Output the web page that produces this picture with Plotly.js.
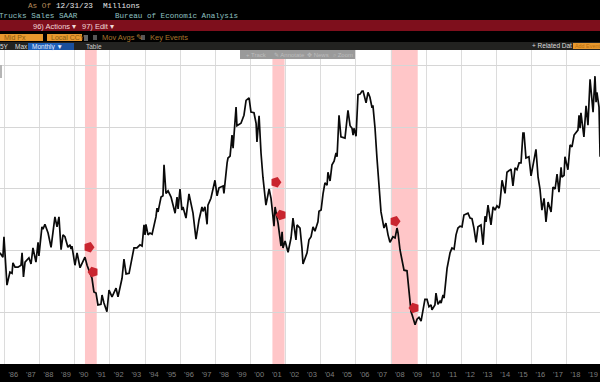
<!DOCTYPE html>
<html><head><meta charset="utf-8">
<script src="https://cdn.plot.ly/plotly-3.0.1.min.js"></script>
<style>html,body{margin:0;padding:0;background:#000}#c{width:600px;height:382px}</style>
</head><body><div id="c"></div>
<script>
const years=[1985.74,1985.91,1985.97,1986.05,1986.14,1986.31,1986.43,1986.48,1986.60,1986.77,1986.94,1987.00,1987.08,1987.17,1987.39,1987.51,1987.62,1987.79,1987.91,1987.96,1988.13,1988.19,1988.30,1988.48,1988.65,1988.87,1988.99,1989.10,1989.22,1989.33,1989.44,1989.61,1989.73,1989.79,1989.84,1990.01,1990.13,1990.30,1990.58,1990.70,1990.87,1990.98,1991.09,1991.21,1991.32,1991.49,1991.55,1991.66,1991.83,1991.95,1992.12,1992.35,1992.46,1992.63,1992.69,1992.80,1992.92,1993.09,1993.37,1993.54,1993.71,1993.83,1993.94,1994.00,1994.05,1994.17,1994.28,1994.40,1994.62,1994.68,1994.74,1994.91,1995.02,1995.08,1995.19,1995.31,1995.48,1995.71,1995.82,1995.88,1995.99,1996.10,1996.16,1996.33,1996.50,1996.73,1996.90,1997.07,1997.24,1997.30,1997.41,1997.53,1997.58,1997.75,1997.98,1998.10,1998.21,1998.44,1998.49,1998.67,1998.72,1998.84,1998.95,1999.01,1999.18,1999.23,1999.46,1999.63,1999.75,1999.92,2000.03,2000.20,2000.32,2000.37,2000.49,2000.60,2000.71,2000.88,2001.06,2001.17,2001.34,2001.40,2001.57,2001.74,2001.80,2001.85,2001.97,2002.14,2002.31,2002.42,2002.59,2002.65,2002.82,2002.93,2002.99,2003.22,2003.33,2003.45,2003.56,2003.67,2003.84,2003.90,2004.02,2004.13,2004.24,2004.36,2004.41,2004.53,2004.64,2004.76,2004.87,2004.93,2004.98,2005.04,2005.15,2005.38,2005.55,2005.67,2005.78,2005.84,2005.89,2006.01,2006.12,2006.24,2006.35,2006.41,2006.58,2006.69,2006.80,2006.92,2006.97,2007.09,2007.20,2007.32,2007.43,2007.60,2007.71,2007.83,2007.94,2008.11,2008.23,2008.34,2008.40,2008.51,2008.63,2008.74,2008.91,2009.02,2009.14,2009.20,2009.37,2009.48,2009.59,2009.71,2009.82,2009.93,2010.05,2010.16,2010.28,2010.33,2010.50,2010.56,2010.67,2010.79,2010.85,2010.96,2011.02,2011.13,2011.19,2011.36,2011.47,2011.59,2011.70,2011.81,2011.93,2012.04,2012.15,2012.38,2012.50,2012.61,2012.72,2012.84,2012.95,2013.12,2013.24,2013.35,2013.41,2013.52,2013.69,2013.81,2013.92,2014.03,2014.15,2014.20,2014.32,2014.49,2014.60,2014.83,2014.94,2015.06,2015.17,2015.29,2015.40,2015.51,2015.57,2015.68,2015.85,2015.97,2016.25,2016.37,2016.48,2016.59,2016.71,2016.82,2016.94,2017.11,2017.22,2017.34,2017.45,2017.56,2017.68,2017.73,2017.85,2017.90,2018.07,2018.19,2018.30,2018.42,2018.64,2018.70,2018.76,2018.81,2018.98,2019.10,2019.21,2019.33,2019.50,2019.61,2019.67,2019.72,2019.84,2019.90];
const sales=[.297,.290,.323,.290,.245,.266,.264,.281,.274,.274,.277,.297,.258,.282,.289,.279,.305,.282,.314,.292,.339,.335,.343,.329,.306,.355,.339,.355,.302,.326,.323,.306,.310,.303,.308,.277,.297,.273,.290,.277,.264,.256,.234,.232,.213,.214,.229,.216,.202,.237,.226,.240,.226,.252,.256,.287,.263,.264,.305,.305,.310,.308,.342,.326,.343,.326,.329,.327,.355,.369,.363,.387,.389,.439,.393,.397,.387,.361,.387,.368,.400,.366,.371,.353,.392,.361,.319,.350,.371,.364,.371,.343,.374,.385,.414,.389,.402,.405,.393,.442,.450,.453,.487,.466,.532,.502,.506,.519,.543,.547,.524,.523,.506,.476,.518,.458,.419,.374,.400,.385,.340,.371,.345,.308,.331,.305,.316,.298,.321,.353,.318,.342,.337,.305,.279,.297,.318,.323,.339,.332,.347,.364,.366,.392,.410,.406,.427,.413,.439,.445,.458,.452,.476,.519,.484,.482,.527,.502,.498,.487,.498,.485,.552,.553,.558,.558,.539,.556,.548,.531,.535,.498,.450,.402,.363,.337,.345,.326,.314,.323,.321,.337,.329,.302,.285,.269,.268,.232,.202,.197,.181,.190,.193,.187,.205,.222,.222,.210,.213,.205,.213,.232,.214,.219,.216,.229,.224,.261,.272,.297,.305,.303,.326,.337,.340,.339,.358,.361,.353,.352,.337,.314,.339,.342,.310,.356,.347,.374,.342,.371,.366,.373,.369,.377,.414,.393,.427,.432,.405,.434,.431,.442,.442,.490,.490,.450,.452,.421,.464,.419,.400,.366,.385,.347,.379,.363,.403,.400,.424,.395,.435,.419,.422,.452,.431,.471,.468,.487,.495,.519,.498,.523,.484,.534,.503,.577,.524,.582,.540,.556,.532,.452];
const recessionStart=[1990.58,2001.25,2007.99];
const recessionEnd=[1991.25,2001.94,2009.52];
const eventYears=[1990.81,1991.04,2001.45,2001.74,2008.23,2009.31];
const eventValues=[.306,.266,.411,.358,.348,.208];
const eventAngles=[90,-90,90,-90,90,-90];
const gridYears=[1986,1988,1990,1992,1994,1996,1998,2000,2002,2004,2006,2008,2010,2012,2014,2016,2018];
const gridValues=[.2,.3,.4,.5,.6];
const tickYears=[1986,1987,1988,1989,1990,1991,1992,1993,1994,1995,1996,1997,1998,1999,2000,2001,2002,2003,2004,2005,2006,2007,2008,2009,2010,2011,2012,2013,2014,2015,2016,2017,2018,2019];
const tickLabels=["'86","'87","'88","'89","'90","'91","'92","'93","'94","'95","'96","'97","'98","'99","'00","'01","'02","'03","'04","'05","'06","'07","'08","'09","'10","'11","'12","'13","'14","'15","'16","'17","'18","'19"];

const H=382;
function rect(x0,y0,x1,y1,c){return {type:'rect',xref:'paper',yref:'paper',x0:x0/600,x1:x1/600,y0:1-y1/H,y1:1-y0/H,fillcolor:c,line:{width:0},layer:'above'};}
function txt(x,y,t,c,s,f,a){return {xref:'paper',yref:'paper',x:x/600,y:1-y/H,text:t,showarrow:false,xanchor:a||'left',yanchor:'middle',font:{color:c,size:s,family:f||'Liberation Sans'}};}
const mono='Liberation Mono';
const shapes=recessionStart.map((s,i)=>({type:'rect',xref:'x',yref:'paper',x0:s,x1:recessionEnd[i],y0:1-364/H,y1:1-50/H,fillcolor:'#ffc6c8',line:{width:0},layer:'below'}));
shapes.push(
 rect(0,20,600,31,'#7e0f1c'),
 rect(0,42,600,50,'#222220'),
 rect(0,34,43,41,'#e8982e'),
 rect(47,34,82,41,'#e8982e'),
 rect(84,35,88,41,'#666666'),
 rect(93,35,97,40,'#555555'),
 rect(141,35,145,40,'#555555'),
 rect(28,43,60,50,'#1d5fb8'),
 rect(60,43,74,50,'#1a4f9c'),
 rect(573,43,600,49,'#e8982e'),
 rect(240,50,355,59,'#9a9a9a'),
 rect(0,65,2,78,'#b5b5b5')
);
const annotations=[
 txt(26,6,'As Of','#b98a5a',7.7,mono),
 txt(54,6,'12/31/23','#e6e6e6',7.7,mono),
 txt(101,6,'Millions','#e6e6e6',7.7,mono),
 txt(-3,16,'Trucks Sales SAAR','#8fc0c0',7.7,mono),
 txt(113,16,'Bureau of Economic Analysis','#8fc0c0',7.6,mono),
 txt(31,26,'96) Actions ▾','#f0d8d8',7.5),
 txt(80,26,'97) Edit ▾','#f0d8d8',7.5),
 txt(2,37.5,'Mid Px','#8a5a10',7),
 txt(49,37.5,'Local CCY','#8a5a10',7),
 txt(100,37.5,'Mov Avgs ✎','#a8742c',7.5),
 txt(148,37.5,'Key Events','#a8742c',7.5),
 txt(-2,46.5,'5Y','#dddddd',6.5),
 txt(13,46.5,'Max','#dddddd',6.5),
 txt(30,46.5,'Monthly ▼','#e8eeff',6.5),
 txt(84,46.5,'Table','#cccccc',6.5),
 txt(530,46,'+ Related Dat','#dddddd',6.5),
 txt(573,46,'Add Event','#b86f10',5.4),
 txt(244,54.5,'+ Track','#bdbdbd',6),
 txt(272,54.5,'✎ Annotate','#bdbdbd',6),
 txt(305,54.5,'✥ News','#bdbdbd',6),
 txt(331,54.5,'⌕ Zoom','#bdbdbd',6)
];
const traces=[
 {x:years,y:sales,type:'scatter',mode:'lines',line:{color:'#0a0a0a',width:1.7},hoverinfo:'skip'},
 {x:eventYears,y:eventValues,type:'scatter',mode:'markers',marker:{symbol:'pentagon',size:11,color:'#c9252f',angle:eventAngles,line:{width:0}},hoverinfo:'skip'}
];
const layout={
 width:600,height:382,margin:{l:0,r:0,t:0,b:0},paper_bgcolor:'#000',plot_bgcolor:'#fff',showlegend:false,
 xaxis:{domain:[0,1],range:[1985.744,2019.895],tickvals:tickYears.map(y=>y+0.5),ticktext:tickLabels,showgrid:false,zeroline:false,ticks:'',
   tickfont:{color:'#7d7d7d',size:7.5,family:'Liberation Sans'},ticklabelstandoff:4,showline:false,
   minor:{tickvals:gridYears,showgrid:true,gridcolor:'#dcdcdc',gridwidth:1,ticks:''}},
 yaxis:{domain:[1-364/H,1-50/H],range:[0.1177,0.6242],tickvals:gridValues,showticklabels:false,showgrid:true,gridcolor:'#d6d6d6',gridwidth:1,zeroline:false,ticks:''},
 shapes,annotations
};
Plotly.newPlot('c',traces,layout,{displayModeBar:false,staticPlot:true});
</script></body></html>
